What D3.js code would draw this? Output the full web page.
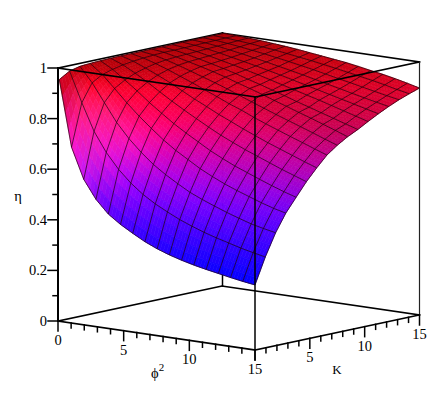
<!DOCTYPE html>
<html>
<head>
<meta charset="utf-8">
<style>html,body{margin:0;padding:0;background:#fff}svg{display:block}</style>
<script src="https://cdn.jsdelivr.net/npm/d3@7/dist/d3.min.js"></script>
</head>
<body>
<div id="chart"></div>
<script>
const phiValues = [.1,1.03,1.96,2.89,3.83,4.76,5.69,6.62,7.55,8.48,9.41,10.34,11.28,12.21,13.14,14.07,15];
const kappaValues = [0,.94,1.88,2.81,3.75,4.69,5.63,6.56,7.5,8.44,9.38,10.31,11.25,12.19,13.13,14.06,15];
const eta00 = [.955,.695,.575,.503,.452,.418,.39,.364,.343,.326,.312,.3,.29,.281,.272,.264,.257];
const eta01 = [.98,.862,.756,.68,.62,.573,.535,.505,.48,.457,.438,.421,.406,.393,.38,.369,.359];
const eta02 = [.99,.932,.861,.79,.733,.686,.645,.612,.583,.556,.535,.516,.498,.482,.467,.456,.446];
const eta03 = [.993,.956,.908,.859,.813,.772,.733,.699,.67,.641,.617,.595,.576,.559,.542,.527,.515];
const eta04 = [.995,.968,.933,.897,.858,.823,.789,.759,.731,.703,.679,.657,.638,.619,.601,.584,.569];
const eta05 = [.996,.977,.951,.923,.892,.862,.834,.807,.781,.756,.734,.713,.694,.675,.656,.639,.622];
const eta06 = [.997,.983,.963,.942,.919,.894,.869,.846,.822,.801,.779,.759,.739,.721,.703,.685,.668];
const eta07 = [.997,.987,.972,.955,.936,.917,.897,.877,.856,.838,.817,.798,.78,.762,.745,.727,.71];
const eta08 = [.997,.99,.978,.964,.948,.932,.916,.899,.88,.862,.844,.826,.809,.792,.775,.757,.74];
const eta09 = [.998,.992,.981,.969,.957,.944,.93,.914,.899,.883,.866,.85,.833,.817,.80,.783,.765];
const eta10 = [.998,.992,.983,.972,.96,.948,.935,.92,.906,.891,.876,.86,.845,.83,.815,.80,.785];
const eta11 = [.998,.993,.985,.975,.964,.953,.941,.929,.916,.903,.89,.877,.864,.85,.836,.822,.808];
const eta12 = [.999,.994,.987,.978,.968,.958,.948,.937,.926,.914,.902,.89,.878,.866,.854,.842,.83];
const eta13 = [.999,.995,.989,.981,.973,.964,.955,.945,.935,.925,.914,.903,.892,.881,.87,.86,.85];
const eta14 = [.999,.996,.991,.985,.978,.971,.963,.955,.946,.937,.927,.917,.907,.897,.887,.877,.868];
const eta15 = [.999,.997,.993,.989,.983,.978,.971,.964,.957,.949,.941,.932,.923,.914,.904,.893,.883];
const eta16 = [.999,.997,.995,.992,.988,.984,.979,.973,.967,.961,.955,.947,.938,.93,.92,.909,.897];
const etaRows = [eta00,eta01,eta02,eta03,eta04,eta05,eta06,eta07,eta08,eta09,eta10,eta11,eta12,eta13,eta14,eta15,eta16];
const etaTickLabels = ["0","0.2","0.4","0.6","0.8","1"];
const axisTickLabels = ["0","5","10","15"];
const colourStops = [1,.95,.9,.8,.72,.6,.5,.4,.3,.25];
const colourValues = ["rgb(175,0,5)","rgb(205,0,18)","rgb(222,0,38)","rgb(205,0,78)","rgb(180,0,125)","rgb(135,0,185)","rgb(90,0,220)","rgb(50,0,240)","rgb(15,0,255)","rgb(0,0,255)"];

const W = 448, H = 402;
const svg = d3.select("#chart").append("svg").attr("width", W).attr("height", H)
  .attr("font-family", "'Liberation Serif', serif").attr("font-size", 14.5).attr("fill", "#000");

const x0 = 58, y0 = 321;
const phiX = d3.scaleLinear([0,15],[0,197]), phiY = d3.scaleLinear([0,15],[0,29]);
const kapX = d3.scaleLinear([0,15],[0,164.5]), kapY = d3.scaleLinear([0,15],[0,-35]);
const etaY = d3.scaleLinear([0,1],[0,-253]);
const proj = (p,k,e) => [x0+phiX(p)+kapX(k), y0+phiY(p)+kapY(k)+etaY(e)];
const line = d3.line();

function seg(g, a, b, w, c){
  g.append("path").attr("d", line([a,b])).attr("fill","none")
    .attr("stroke", c||"#000").attr("stroke-width", w).attr("stroke-linecap","square");
}

// back of the box
const back = svg.append("g");
seg(back, proj(0,0,0), proj(0,15,0), 1.5);
seg(back, proj(15,15,0), proj(0,15,0), 1.5);
seg(back, proj(0,15,0), proj(0,15,1), 1.5);
seg(back, proj(0,0,1), proj(0,15,1), 1.5);
seg(back, proj(15,15,1), proj(0,15,1), 1.5);

// surface colours
const baseColour = d3.scaleLinear(colourStops, colourValues).interpolate(d3.interpolateRgb);
const L = [0.5,-0.6,0.3];
const ni = phiValues.length, nj = kappaValues.length;
function vertexColour(i,j){
  const e = etaRows[j][i];
  const i0=Math.max(0,i-1), i1=Math.min(ni-1,i+1), j0=Math.max(0,j-1), j1=Math.min(nj-1,j+1);
  const gx = -(etaRows[j][i1]-etaRows[j][i0])/((phiValues[i1]-phiValues[i0])/15);
  const gy = (etaRows[j1][i]-etaRows[j0][i])/((kappaValues[j1]-kappaValues[j0])/15);
  const len = Math.hypot(gx,gy,1);
  const dot = (gx*L[0]+(-gy)*L[1]+L[2])/len;
  const m = 1+1.6*Math.max(0,dot-0.6);
  const w = 2.2*Math.max(0,dot-0.78);
  const c = d3.rgb(baseColour(e));
  return [c.r*m+255*w, c.g*m+255*w, c.b*m+255*w].map(v=>Math.min(255,v));
}
const colours = etaRows.map((r,j)=>r.map((_,i)=>vertexColour(i,j)));

const surf = svg.append("g");
const SUB = 4;
const bil = (a,b,c,d,u,v)=>a*(1-u)*(1-v)+b*u*(1-v)+c*(1-u)*v+d*u*v;
const pieces = [];
for(let j=nj-2;j>=0;j--){
  for(let i=0;i<ni-1;i++){
    const P=[proj(phiValues[i],kappaValues[j],etaRows[j][i]),proj(phiValues[i+1],kappaValues[j],etaRows[j][i+1]),
             proj(phiValues[i],kappaValues[j+1],etaRows[j+1][i]),proj(phiValues[i+1],kappaValues[j+1],etaRows[j+1][i+1])];
    const C=[colours[j][i],colours[j][i+1],colours[j+1][i],colours[j+1][i+1]];
    const pt=(u,v)=>[bil(P[0][0],P[1][0],P[2][0],P[3][0],u,v),bil(P[0][1],P[1][1],P[2][1],P[3][1],u,v)];
    for(let b=SUB-1;b>=0;b--)for(let a=0;a<SUB;a++){
      const u0=a/SUB,u1=(a+1)/SUB,v0=b/SUB,v1=(b+1)/SUB,um=(u0+u1)/2,vm=(v0+v1)/2;
      const col=[0,1,2].map(k=>Math.round(bil(C[0][k],C[1][k],C[2][k],C[3][k],um,vm)));
      pieces.push({d:line([pt(u0,v0),pt(u1,v0),pt(u1,v1),pt(u0,v1)])+"Z",c:`rgb(${col})`});
    }
  }
}
surf.selectAll("path").data(pieces).join("path")
  .attr("d",d=>d.d).attr("fill",d=>d.c).attr("stroke",d=>d.c).attr("stroke-width",0.6);

// mesh
const mesh = svg.append("g").attr("fill","none").attr("stroke","rgba(30,0,10,0.7)").attr("stroke-width",1);
kappaValues.forEach((k,j)=>mesh.append("path").attr("d",line(phiValues.map((p,i)=>proj(p,k,etaRows[j][i])))));
phiValues.forEach((p,i)=>mesh.append("path").attr("d",line(kappaValues.map((k,j)=>proj(p,k,etaRows[j][i])))));

// front of the box
const front = svg.append("g");
seg(front, proj(0,0,1), proj(15,0,1), 1.5);
seg(front, proj(15,15,1), proj(15,0,1), 1.5);
seg(front, proj(15,0,0), proj(15,0,1), 1.5);
seg(front, proj(15,15,0), proj(15,15,1), 1.2, "#222");
seg(front, proj(0,0,0), proj(0,0,1), 2);
seg(front, proj(0,0,0), proj(15,0,0), 1.6);
seg(front, proj(15,0,0), proj(15,15,0), 1.6);

// eta axis
const etaTicks = d3.range(0,11).map(d=>d/10);
etaTicks.forEach((t,n)=>{
  const [x,y]=proj(0,0,t);
  seg(front,[x,y],[x-(n%2===0?10:5),y],1.5);
});
etaTickLabels.forEach((s,n)=>{
  const [x,y]=proj(0,0,n/5);
  svg.append("text").attr("x",x-11).attr("y",y+5).attr("text-anchor","end").text(s);
});

// phi and kappa axes
d3.range(0,16).forEach(t=>{
  const l=t%5===0?10:5;
  const a=proj(t,0,0); seg(front,a,[a[0],a[1]+l],1.5);
  const b=proj(15,t,0); seg(front,b,[b[0],b[1]+l],1.5);
});
axisTickLabels.forEach(s=>{
  const t=+s;
  const a=proj(t,0,0);
  svg.append("text").attr("x",a[0]).attr("y",a[1]+24).attr("text-anchor","middle").text(s);
  if(t>0){
    const b=proj(15,t,0);
    svg.append("text").attr("x",b[0]).attr("y",b[1]+24).attr("text-anchor","middle").text(s);
  }
});

// axis titles
svg.append("text").attr("x",18).attr("y",201).attr("text-anchor","middle").text("η");
svg.append("text").attr("x",337).attr("y",374).attr("text-anchor","middle").attr("font-size",13).text("K");
const t=svg.append("text").attr("x",151).attr("y",378);
t.append("tspan").text("ϕ");
t.append("tspan").attr("dy",-7).attr("font-size",11).text("2");
</script>
</body>
</html>
